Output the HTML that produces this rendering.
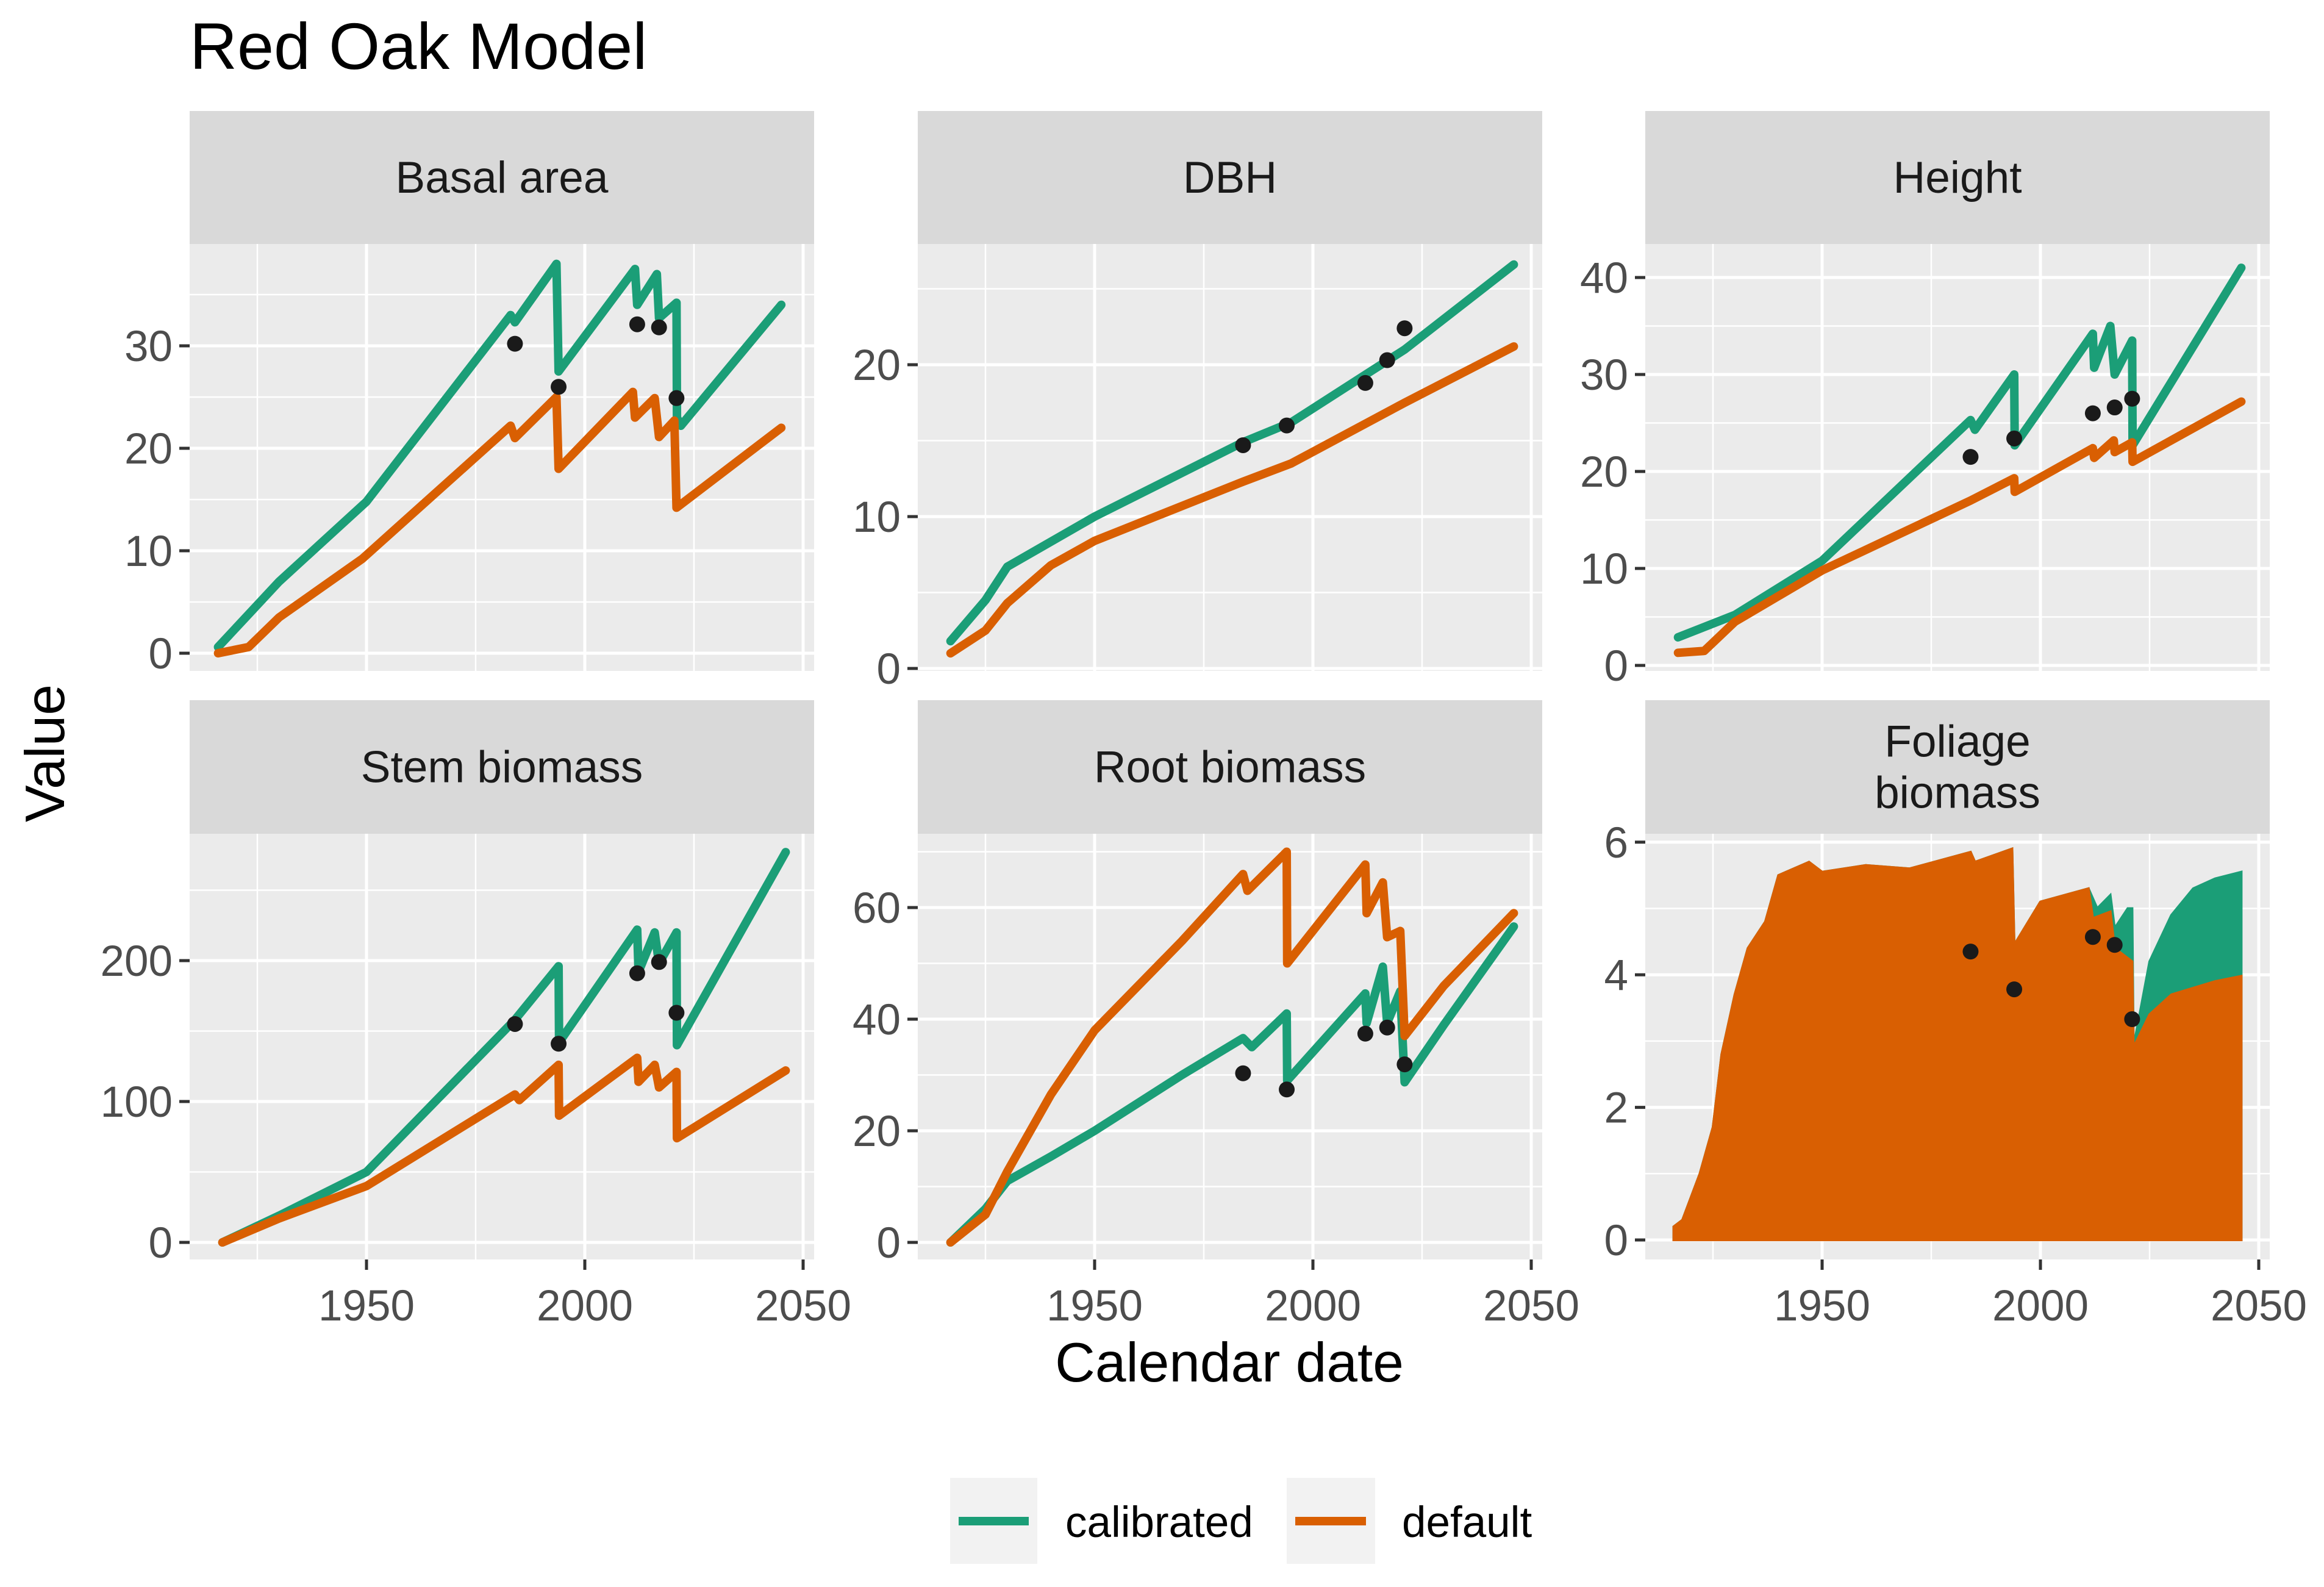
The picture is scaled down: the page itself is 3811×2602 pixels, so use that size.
<!DOCTYPE html>
<html><head><meta charset="utf-8"><style>
html,body{margin:0;padding:0;background:#fff;}
svg{display:block;font-family:"Liberation Sans",Arial,sans-serif;}
</style></head><body>
<svg id="chart" width="3811" height="2602" viewBox="0 0 3811 2602" xmlns="http://www.w3.org/2000/svg">
<rect width="3811" height="2602" fill="#ffffff"/>
<text x="311" y="113" font-size="108" fill="#000">Red Oak Model</text>
<text x="0" y="0" font-size="91" fill="#000" text-anchor="middle" transform="translate(105,1235) rotate(-90)">Value</text>
<text x="2016" y="2265" font-size="91" fill="#000" text-anchor="middle">Calendar date</text>
<g>
 <rect x="1558" y="2423" width="143" height="141" fill="#f2f2f2"/>
 <line x1="1572" y1="2494" x2="1687" y2="2494" stroke="#1b9e77" stroke-width="14"/>
 <text x="1747" y="2520" font-size="71" fill="#000">calibrated</text>
 <rect x="2110" y="2423" width="145" height="141" fill="#f2f2f2"/>
 <line x1="2124" y1="2494" x2="2240" y2="2494" stroke="#d95f02" stroke-width="14"/>
 <text x="2299" y="2520" font-size="71" fill="#000">default</text>
</g>
<g id="panels"></g>
</svg>
<script>
// ---- data ----
const obsYears = [1984, 1994, 2012, 2017, 2021];

const basalCalYears = [1916,1930,1950,1983,1984,1993.5,1994,2011.5,2012,2016.5,2017,2021,2021.1,2022,2045];
const basalCalVals  = [0.6,7,14.8,33,32.3,38,27.5,37.5,34,37,32.7,34.2,23,22.2,34];
const basalDefYears = [1916,1923,1930,1949,1983,1984,1993.5,1994,2011,2011.5,2016,2017,2020.5,2021,2045];
const basalDefVals  = [0,0.6,3.5,9.2,22.2,21,25,18,25.5,23,24.9,21.1,22.7,14.2,22];
const basalObs = [30.2,26,32.1,31.8,24.9];

const dbhCalYears = [1917,1925,1930,1950,1984,1995,2021,2046];
const dbhCalVals  = [1.8,4.5,6.7,10,14.9,16.2,21,26.6];
const dbhDefYears = [1917,1925,1930,1940,1950,1984,1995,2021,2046];
const dbhDefVals  = [1.0,2.5,4.3,6.8,8.4,12.3,13.5,17.5,21.2];
const dbhObs = [14.7,16,18.8,20.3,22.4];

const htCalYears = [1917,1930,1950,1984,1985,1994,1994.1,2012,2012.3,2016,2017,2021,2021.1,2046];
const htCalVals  = [2.9,5.2,10.8,25.3,24.3,30,22.7,34.2,30.7,35,30,33.5,22.7,41];
const htDefYears = [1917,1923,1930,1950,1984,1994,1994.1,2012,2012.3,2016.8,2017,2021,2021.1,2046];
const htDefVals  = [1.3,1.5,4.5,9.8,17,19.3,17.9,22.4,21.4,23.2,22,23,21,27.2];
const htObs = [21.5,23.4,26,26.6,27.5];

const stemCalYears = [1917,1930,1950,1984,1994,1994.1,2012,2012.3,2016,2017,2021,2021.1,2046];
const stemCalVals  = [0,19,50,158,196,142,222,192,220,198,220,140,277];
const stemDefYears = [1917,1930,1950,1984,1985,1994,1994.1,2012,2012.3,2016,2017,2021,2021.1,2046];
const stemDefVals  = [0,17,40,105,101,126,90,131,114,126,110,121,74,122];
const stemObs = [155,141,191,199,163];

const rootCalYears = [1917,1925,1930,1940,1950,1970,1984,1986,1994,1994.1,2012,2012.3,2016,2017,2020,2021,2030,2046];
const rootCalVals  = [0,6,11,15.4,20,30,36.6,35,41,29,44.6,39.3,49.4,39.3,45,28.7,39,56.6];
const rootDefYears = [1917,1925,1930,1940,1950,1970,1984,1985,1994,1994.1,2012,2012.3,2016,2017,2020,2021,2030,2046];
const rootDefVals  = [0,5,12.7,26.5,38,54,66,63,70,50,67.7,59,64.5,54.7,55.8,37,46,59];
const rootObs = [30.3,27.4,37.4,38.5,31.9];

const folCalYears = [1916,1918,1922,1925,1927,1930,1933,1937,1940,1947,1950,1960,1970,1984,1985,1993.5,1994,2000,2011,2013,2016,2017,2020,2021,2021.3,2025,2030,2035,2040,2046];
const folCalVals  = [0.2,0.3,1,1.7,2.8,3.7,4.4,4.8,5.5,5.7,5.55,5.65,5.6,5.85,5.7,5.9,4.45,5.1,5.3,5.0,5.2,4.7,5.0,5.0,2.9,4.2,4.9,5.3,5.45,5.55];
const folDefYears = [1916,1918,1922,1925,1927,1930,1933,1937,1940,1947,1950,1960,1970,1984,1985,1993.5,1994,2000,2011,2012,2016,2017,2021,2021.3,2025,2030,2040,2046];
const folDefVals  = [0.2,0.3,1,1.7,2.8,3.7,4.4,4.8,5.5,5.7,5.55,5.65,5.6,5.85,5.7,5.9,4.45,5.1,5.3,4.85,4.95,4.4,4.2,2.9,3.4,3.7,3.9,3.98];
const folObs = [4.35,3.78,4.57,4.45,3.33];

const xTicks = [1950, 2000, 2050];
const xMinor = [1925, 1975, 2025];

const panels = [
 {name:'basal-area', title:['Basal area'], left:311, top:182, stripH:218, bottom:1100, y0:1071, ppu:16.8, ticks:[0,10,20,30], minor:[5,15,25,35], cal:[basalCalYears,basalCalVals], def:[basalDefYears,basalDefVals], obs:basalObs, xlab:false},
 {name:'dbh', title:['DBH'], left:1505, top:182, stripH:218, bottom:1100, y0:1096, ppu:24.9, ticks:[0,10,20], minor:[5,15,25], cal:[dbhCalYears,dbhCalVals], def:[dbhDefYears,dbhDefVals], obs:dbhObs, xlab:false},
 {name:'height', title:['Height'], left:2698, top:182, stripH:218, bottom:1100, y0:1091, ppu:15.9, ticks:[0,10,20,30,40], minor:[5,15,25,35], cal:[htCalYears,htCalVals], def:[htDefYears,htDefVals], obs:htObs, xlab:false},
 {name:'stem-biomass', title:['Stem biomass'], left:311, top:1148, stripH:219, bottom:2065, y0:2037, ppu:2.31, ticks:[0,100,200], minor:[50,150,250], cal:[stemCalYears,stemCalVals], def:[stemDefYears,stemDefVals], obs:stemObs, xlab:true},
 {name:'root-biomass', title:['Root biomass'], left:1505, top:1148, stripH:219, bottom:2065, y0:2037, ppu:9.15, ticks:[0,20,40,60], minor:[10,30,50,70], cal:[rootCalYears,rootCalVals], def:[rootDefYears,rootDefVals], obs:rootObs, xlab:true},
 {name:'foliage-biomass', title:['Foliage','biomass'], left:2698, top:1148, stripH:219, bottom:2065, y0:2033, ppu:108.7, ticks:[0,2,4,6], minor:[1,3,5], cal:[folCalYears,folCalVals], def:[folDefYears,folDefVals], obs:folObs, xlab:true, area:true}
];
const W = 1024;
const NS = 'http://www.w3.org/2000/svg';
function mk(tag, attrs, parent){
  const e = document.createElementNS(NS, tag);
  for (const k in attrs) e.setAttribute(k, attrs[k]);
  parent.appendChild(e); return e;
}
const root = document.getElementById('panels');
panels.forEach(p => {
  const g = mk('g', {}, root);
  
  
  const pt = p.top + p.stripH;
  const xs = yr => p.left + 290 + (yr - 1950) * 7.16;
  const ys = v => p.y0 - v * p.ppu;
  const strip = mk('rect', {x:p.left, y:p.top, width:W, height:p.stripH, fill:'#d9d9d9'}, g);
  
  
  const cy = p.top + p.stripH/2;
  p.title.forEach((t, i) => {
    const off = (i - (p.title.length-1)/2) * 84;
    const tx = mk('text', {x:p.left+W/2, y:cy+off+25, 'font-size':73, fill:'#1a1a1a', 'text-anchor':'middle'}, g);
    tx.textContent = t;
    
    
  });
  mk('rect', {x:p.left, y:pt, width:W, height:p.bottom-pt, fill:'#ebebeb'}, g);
  const clipId = 'clip-' + p.name;
  const cp = mk('clipPath', {id:clipId}, g);
  mk('rect', {x:p.left, y:pt, width:W, height:p.bottom-pt}, cp);
  const gg = mk('g', {'clip-path':'url(#'+clipId+')'}, g);
  p.minor.forEach(v => mk('line', {x1:p.left, x2:p.left+W, y1:ys(v), y2:ys(v), stroke:'#fff', 'stroke-width':2.5}, gg));
  xMinor.forEach(v => mk('line', {x1:xs(v), x2:xs(v), y1:pt, y2:p.bottom, stroke:'#fff', 'stroke-width':2.5}, gg));
  p.ticks.forEach(v => mk('line', {x1:p.left, x2:p.left+W, y1:ys(v), y2:ys(v), stroke:'#fff', 'stroke-width':5}, gg));
  xTicks.forEach(v => mk('line', {x1:xs(v), x2:xs(v), y1:pt, y2:p.bottom, stroke:'#fff', 'stroke-width':5}, gg));
  const series = [['calibrated', p.cal, '#1b9e77'], ['default', p.def, '#d95f02']];
  series.forEach(([nm, arr, col]) => {
    const [yrs, vals] = arr;
    let d = yrs.map((y,i) => (i?'L':'M') + xs(y).toFixed(1) + ',' + ys(vals[i]).toFixed(1)).join(' ');
    let el;
    if (p.area) {
      d = 'M' + xs(yrs[0]).toFixed(1) + ',' + ys(0) + ' ' + d.replace(/^M/, 'L') + ' L' + xs(yrs[yrs.length-1]).toFixed(1) + ',' + ys(0) + ' Z';
      el = mk('path', {d:d, fill:col, stroke:col, 'stroke-width':4}, gg);
    } else {
      el = mk('path', {d:d, fill:'none', stroke:col, 'stroke-width':14, 'stroke-linejoin':'round', 'stroke-linecap':'round'}, gg);
    }
    
    
  });
  obsYears.forEach((y, i) => {
    const c = mk('circle', {cx:xs(y), cy:ys(p.obs[i]), r:13, fill:'#1a1a1a'}, gg);
    
    
  });
  p.ticks.forEach(v => {
    mk('line', {x1:p.left-17, x2:p.left, y1:ys(v), y2:ys(v), stroke:'#333', 'stroke-width':5}, g);
    const t = mk('text', {x:p.left-28, y:ys(v)+25, 'font-size':71, fill:'#4d4d4d', 'text-anchor':'end'}, g);
    t.textContent = v;
    
    
  });
  if (p.xlab) {
    xTicks.forEach(v => {
      mk('line', {x1:xs(v), x2:xs(v), y1:p.bottom, y2:p.bottom+17, stroke:'#333', 'stroke-width':5}, g);
      const t = mk('text', {x:xs(v), y:p.bottom+100, 'font-size':71, fill:'#4d4d4d', 'text-anchor':'middle'}, g);
      t.textContent = v;
      
      
    });
  }
});
</script>
</body></html>
